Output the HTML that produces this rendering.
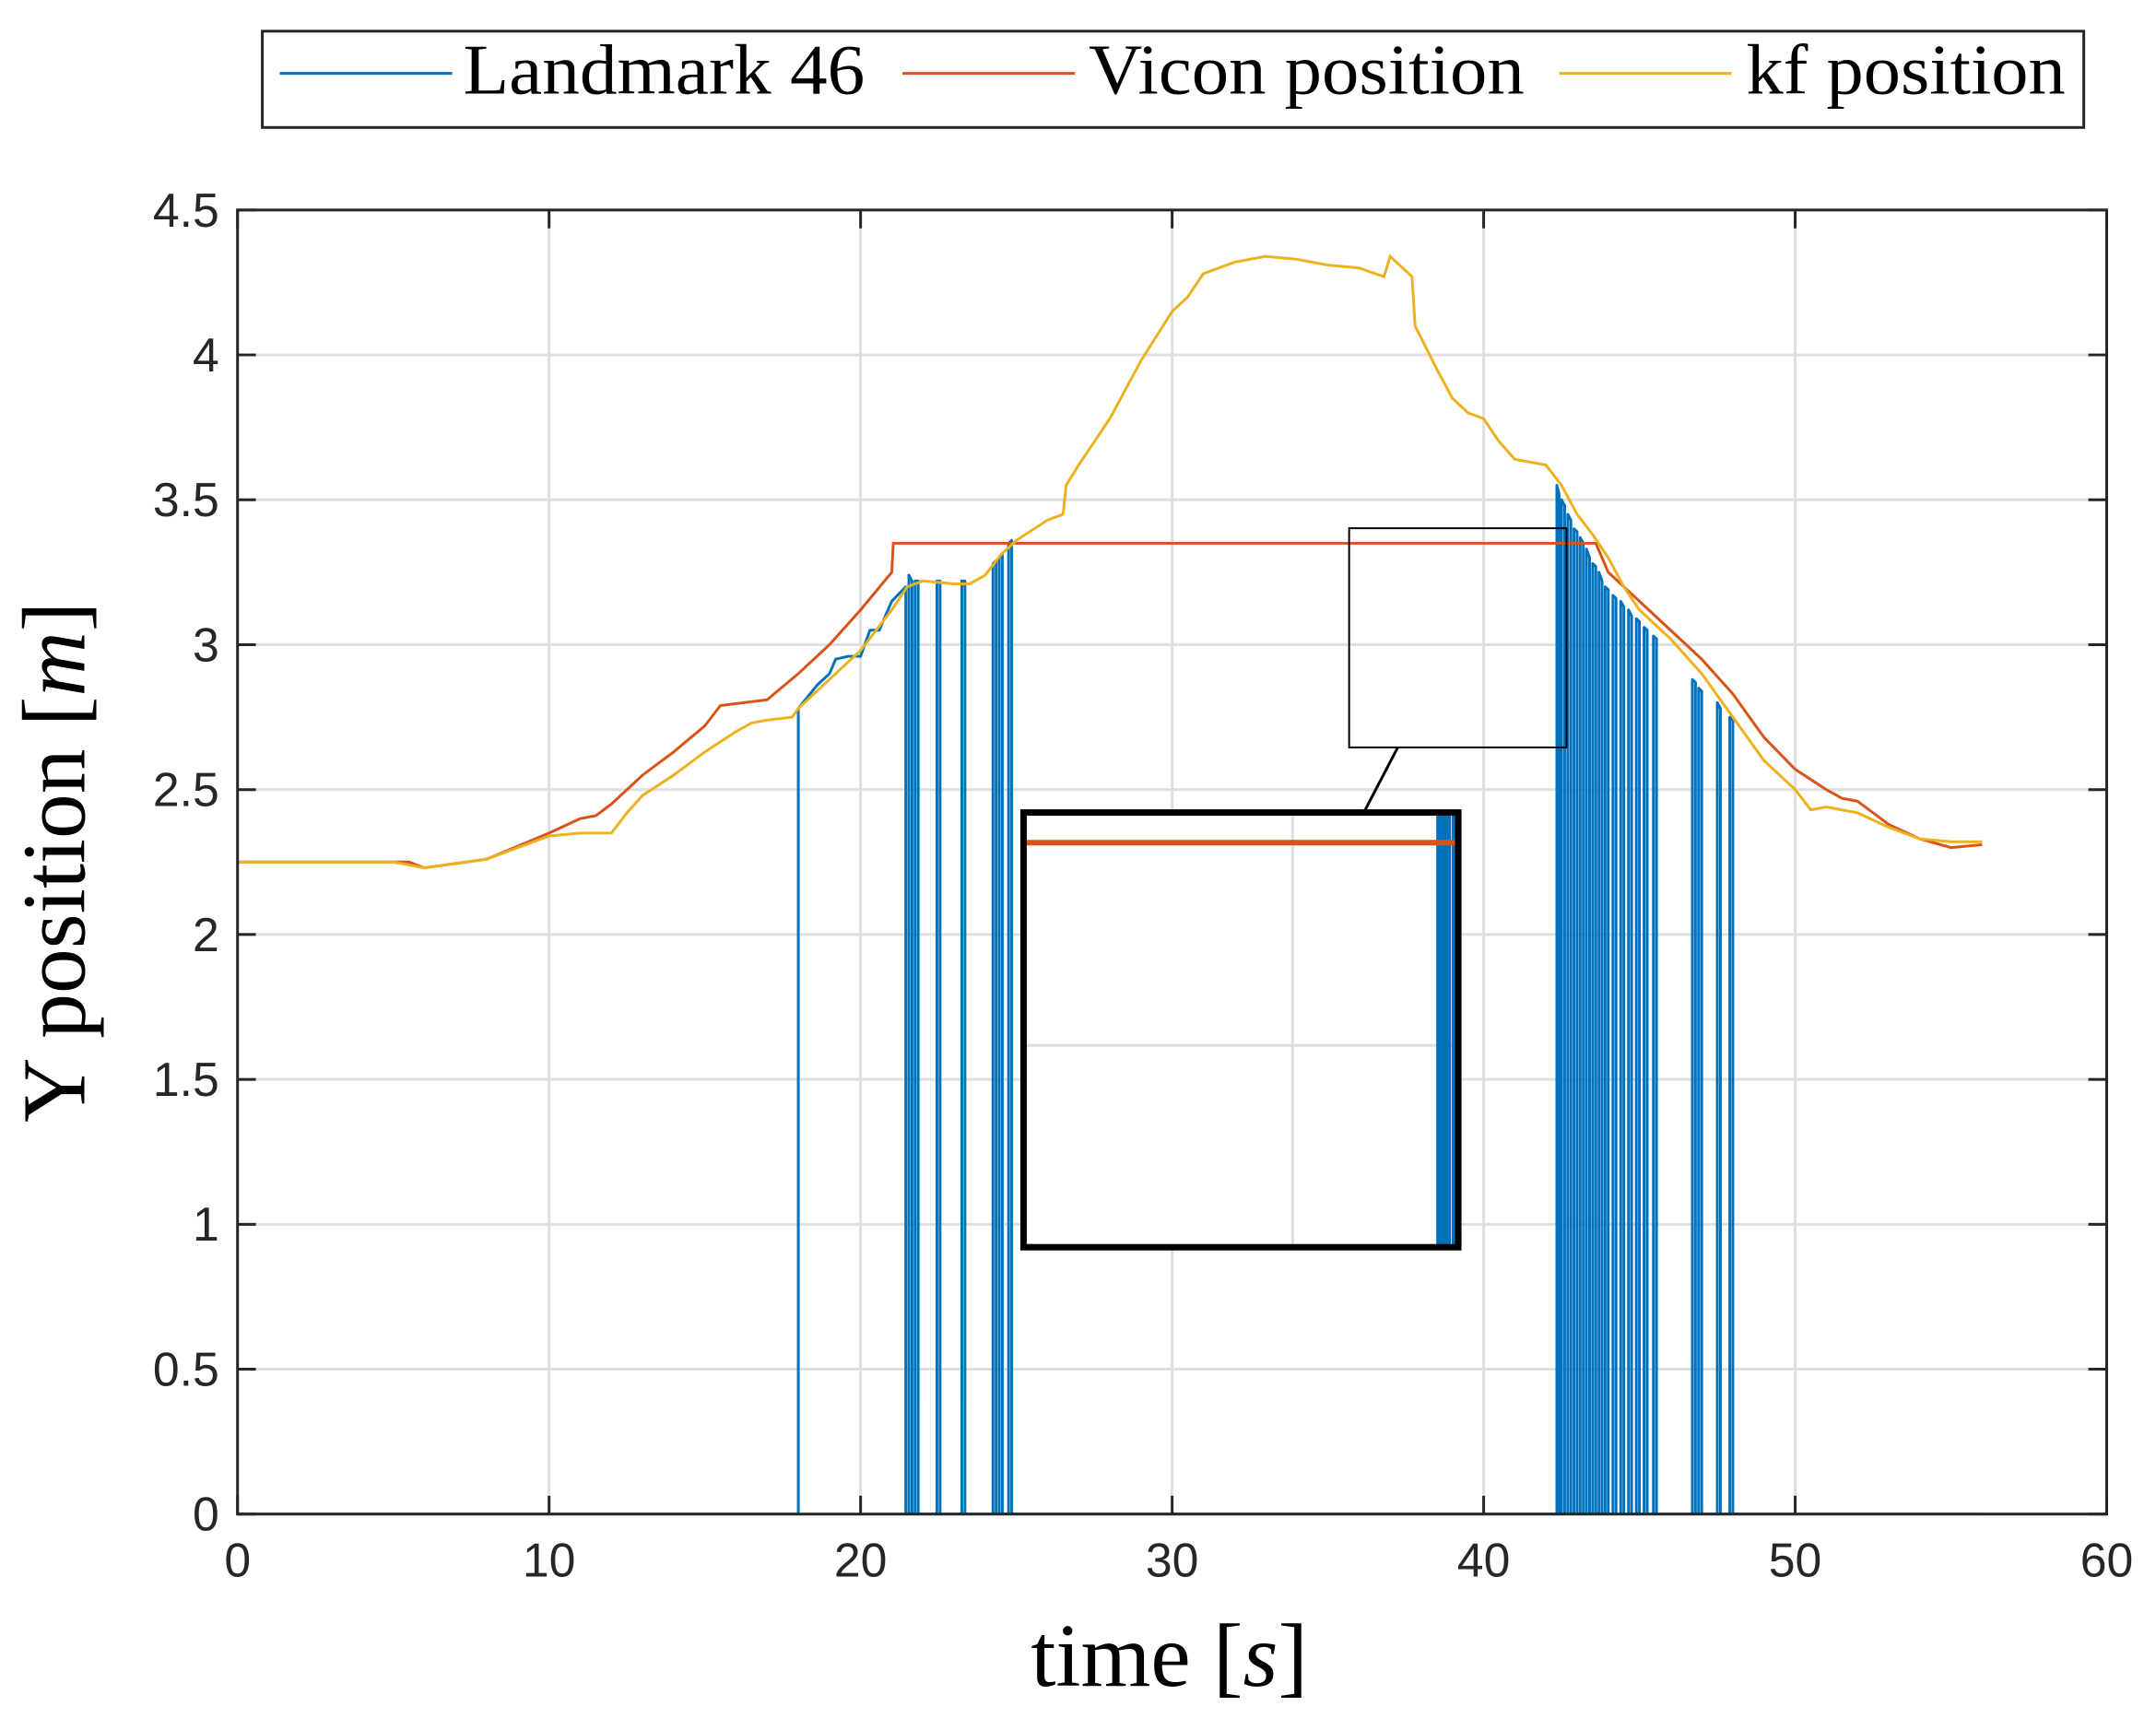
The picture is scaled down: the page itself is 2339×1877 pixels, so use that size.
<!DOCTYPE html>
<html><head><meta charset="utf-8"><style>
html,body{margin:0;padding:0;background:#fff;width:2339px;height:1877px;overflow:hidden;}
svg{display:block;}
</style></head><body>
<svg id="chart" width="2339" height="1877" viewBox="0 0 2339 1877" xmlns="http://www.w3.org/2000/svg">
<defs>
<clipPath id="plotClip"><rect x="259" y="229" width="2038" height="1422"/></clipPath>
<clipPath id="insetClip"><rect x="1116" y="886" width="474" height="474"/></clipPath>
</defs>
<rect x="0" y="0" width="2339" height="1877" fill="#fff"/>
<g transform="scale(0.995)">
<g id="grid"></g>
<g id="plotg" clip-path="url(#plotClip)"><g id="series"></g></g>
<g id="axes"></g>
<rect x="1471" y="576" width="237" height="239" fill="none" stroke="#000" stroke-width="2"/>
<line x1="1524" y1="815" x2="1487" y2="886" stroke="#000" stroke-width="3"/>
<g>
<rect x="1116" y="886" width="474" height="474" fill="#fff"/>
<g clip-path="url(#insetClip)"><g id="insetg" transform="translate(1116,886) scale(2) translate(-1471,-576)"></g></g>
<rect x="1116" y="886" width="474" height="474" fill="none" stroke="#000" stroke-width="7"/>
</g>
<g>
<rect x="286" y="34" width="1986" height="105" fill="#fff" stroke="#262626" stroke-width="3"/>
<g>
<line x1="305" y1="80" x2="493" y2="80" stroke="#0072BD" stroke-width="3"/>
<text x="505" y="102" font-family="Liberation Serif, serif" font-size="78" textLength="438" lengthAdjust="spacingAndGlyphs">Landmark 46</text></g>
<g>
<line x1="984" y1="80" x2="1172" y2="80" stroke="#D95319" stroke-width="3"/>
<text x="1187" y="102" font-family="Liberation Serif, serif" font-size="78" textLength="475" lengthAdjust="spacingAndGlyphs">Vicon position</text></g>
<g>
<line x1="1700" y1="80" x2="1888" y2="80" stroke="#EDB120" stroke-width="3"/>
<text x="1904" y="102" font-family="Liberation Serif, serif" font-size="78" textLength="348" lengthAdjust="spacingAndGlyphs">kf position</text></g>
</g>
<text x="1275" y="1838" text-anchor="middle" font-family="Liberation Serif, serif" font-size="98">time [<tspan font-style="italic">s</tspan>]</text>
<text transform="translate(92,940) rotate(-90)" text-anchor="middle" font-family="Liberation Serif, serif" font-size="98">Y position [<tspan font-style="italic">m</tspan>]</text>
</g>
</svg>
<script>
const xTicks=[0,10,20,30,40,50,60];
const yTicks=[0,0.5,1,1.5,2,2.5,3,3.5,4,4.5];
const yTickLabels=["0","0.5","1","1.5","2","2.5","3","3.5","4","4.5"];
const viconT=[0,5.5,6,8,10,11,11.5,12,13,14,15,15.5,17,18,19,20,21,21.05,43.6,44,45,46,47,48,49,50,51,51.5,52,53,54,55,56];
const viconY=[2.25,2.25,2.23,2.26,2.35,2.4,2.41,2.45,2.55,2.63,2.72,2.79,2.81,2.9,3.0,3.12,3.25,3.35,3.35,3.25,3.15,3.05,2.95,2.83,2.68,2.57,2.5,2.47,2.46,2.38,2.33,2.3,2.31];
const kfT=[0,5,6,8,10,11,12,12.5,13,14,15,16,16.5,17,17.8,18,19,20,21,21.5,22,23,23.5,24,24.5,25,26,26.5,26.6,27,28,29,30,30.5,31,32,33,34,35,36,36.8,37,37.7,37.8,38.5,39,39.5,40,40.5,41,42,42.5,43,43.5,44,44.5,45,46,47,48,49,50,50.5,51,52,53,54,55,56];
const kfY=[2.25,2.25,2.23,2.26,2.34,2.35,2.35,2.42,2.48,2.55,2.63,2.7,2.73,2.74,2.75,2.78,2.88,2.98,3.12,3.2,3.22,3.21,3.21,3.24,3.31,3.36,3.43,3.45,3.55,3.62,3.78,3.98,4.15,4.2,4.28,4.32,4.34,4.33,4.31,4.3,4.27,4.34,4.27,4.1,3.95,3.85,3.8,3.78,3.7,3.64,3.62,3.55,3.45,3.38,3.3,3.2,3.12,3.02,2.9,2.75,2.6,2.5,2.43,2.44,2.42,2.37,2.33,2.32,2.32];
const blueT=[0,18.0,18.0,18.3,18.6,19.0,19.2,19.6,20.0,20.3,20.6,21.0,21.45,21.45,21.55,21.55,21.65,21.65,21.75,21.75,21.85,21.85,22.45,22.45,22.55,22.55,23.25,23.25,23.35,23.35,24.25,24.25,24.35,24.35,24.45,24.45,24.55,24.55,24.75,24.75,24.85,24.85,42.35,42.35,42.42,42.42,42.5,42.5,42.6,42.6,42.7,42.7,42.8,42.8,42.9,42.9,43.0,43.0,43.1,43.1,43.2,43.2,43.3,43.3,43.4,43.4,43.5,43.5,43.6,43.6,43.7,43.7,43.8,43.8,43.9,43.9,44.0,44.0,44.15,44.15,44.25,44.25,44.4,44.4,44.5,44.5,44.65,44.65,44.75,44.75,44.9,44.9,45.0,45.0,45.15,45.15,45.25,45.25,45.45,45.45,45.55,45.55,46.7,46.7,46.8,46.8,46.9,46.9,47.0,47.0,47.5,47.5,47.6,47.6,47.9,47.9,48.0,48.0,56];
const blueY=[0,0,2.78,2.82,2.86,2.9,2.95,2.96,2.96,3.05,3.05,3.15,3.2,0,0,3.24,3.22,0,0,3.22,3.22,0,0,3.22,3.22,0,0,3.22,3.22,0,0,3.28,3.29,0,0,3.3,3.31,0,0,3.35,3.36,0,0,3.55,3.52,0,0,3.5,3.48,0,0,3.45,3.43,0,0,3.4,3.39,0,0,3.37,3.35,0,0,3.33,3.3,0,0,3.28,3.27,0,0,3.25,3.22,0,0,3.2,3.19,0,0,3.17,3.16,0,0,3.15,3.13,0,0,3.12,3.1,0,0,3.09,3.08,0,0,3.06,3.05,0,0,3.03,3.02,0,0,2.88,2.87,0,0,2.85,2.84,0,0,2.8,2.78,0,0,2.75,2.74,0,0];

const X0=259,X1=2297,Y0=1651,Y1=229;
const px=t=>X0+(t-0)/60*(X1-X0);
const py=v=>Y0-(v-0)/4.5*(Y0-Y1);
const NS="http://www.w3.org/2000/svg";
function mk(tag,attrs,parent){const e=document.createElementNS(NS,tag);for(const k in attrs)e.setAttribute(k,attrs[k]);parent.appendChild(e);return e;}
const grid=document.getElementById('grid'),axes=document.getElementById('axes');
xTicks.forEach(t=>{const l=mk('line',{x1:px(t),x2:px(t),y1:Y1,y2:Y0,stroke:'#dfdfdf','stroke-width':3},grid);

});
yTicks.forEach(v=>{const l=mk('line',{x1:X0,x2:X1,y1:py(v),y2:py(v),stroke:'#dfdfdf','stroke-width':3},grid);

});
function drawSeries(g){
  const b=mk('path',{d:'M'+blueT.map((t,i)=>px(t)+','+py(blueY[i])).join('L'),fill:'none',stroke:'#0072BD','stroke-width':3,'stroke-linejoin':'round'},g);
  
  
  const v=mk('path',{d:'M'+viconT.map((t,i)=>px(t)+','+py(viconY[i])).join('L'),fill:'none',stroke:'#D95319','stroke-width':3},g);
  
  
  const k=mk('path',{d:'M'+kfT.map((t,i)=>px(t)+','+py(kfY[i])).join('L'),fill:'none',stroke:'#EDB120','stroke-width':3},g);
  
  
}
drawSeries(document.getElementById('series'));
const ig=document.getElementById('insetg');
xTicks.forEach(t=>{mk('line',{x1:px(t),x2:px(t),y1:Y1,y2:Y0,stroke:'#dfdfdf','stroke-width':1.5},ig);});
yTicks.forEach(v=>{mk('line',{x1:X0,x2:X1,y1:py(v),y2:py(v),stroke:'#dfdfdf','stroke-width':1.5},ig);});
drawSeries(ig);
const box=mk('rect',{x:X0,y:Y1,width:X1-X0,height:Y0-Y1,fill:'none',stroke:'#262626','stroke-width':3},axes);


xTicks.forEach(t=>{
  mk('line',{x1:px(t),x2:px(t),y1:Y0,y2:Y0-20,stroke:'#262626','stroke-width':3},axes);
  mk('line',{x1:px(t),x2:px(t),y1:Y1,y2:Y1+20,stroke:'#262626','stroke-width':3},axes);
  const tx=mk('text',{x:px(t),y:Y0+68,'text-anchor':'middle','font-family':'Liberation Sans, sans-serif','font-size':52,fill:'#262626'},axes);
  tx.textContent=String(t);
  
  
});
yTicks.forEach((v,i)=>{
  mk('line',{x1:X0,x2:X0+20,y1:py(v),y2:py(v),stroke:'#262626','stroke-width':3},axes);
  mk('line',{x1:X1,x2:X1-20,y1:py(v),y2:py(v),stroke:'#262626','stroke-width':3},axes);
  const tx=mk('text',{x:X0-20,y:py(v)+18,'text-anchor':'end','font-family':'Liberation Sans, sans-serif','font-size':52,fill:'#262626'},axes);
  tx.textContent=yTickLabels[i];
  
  
});
</script>
</body></html>
